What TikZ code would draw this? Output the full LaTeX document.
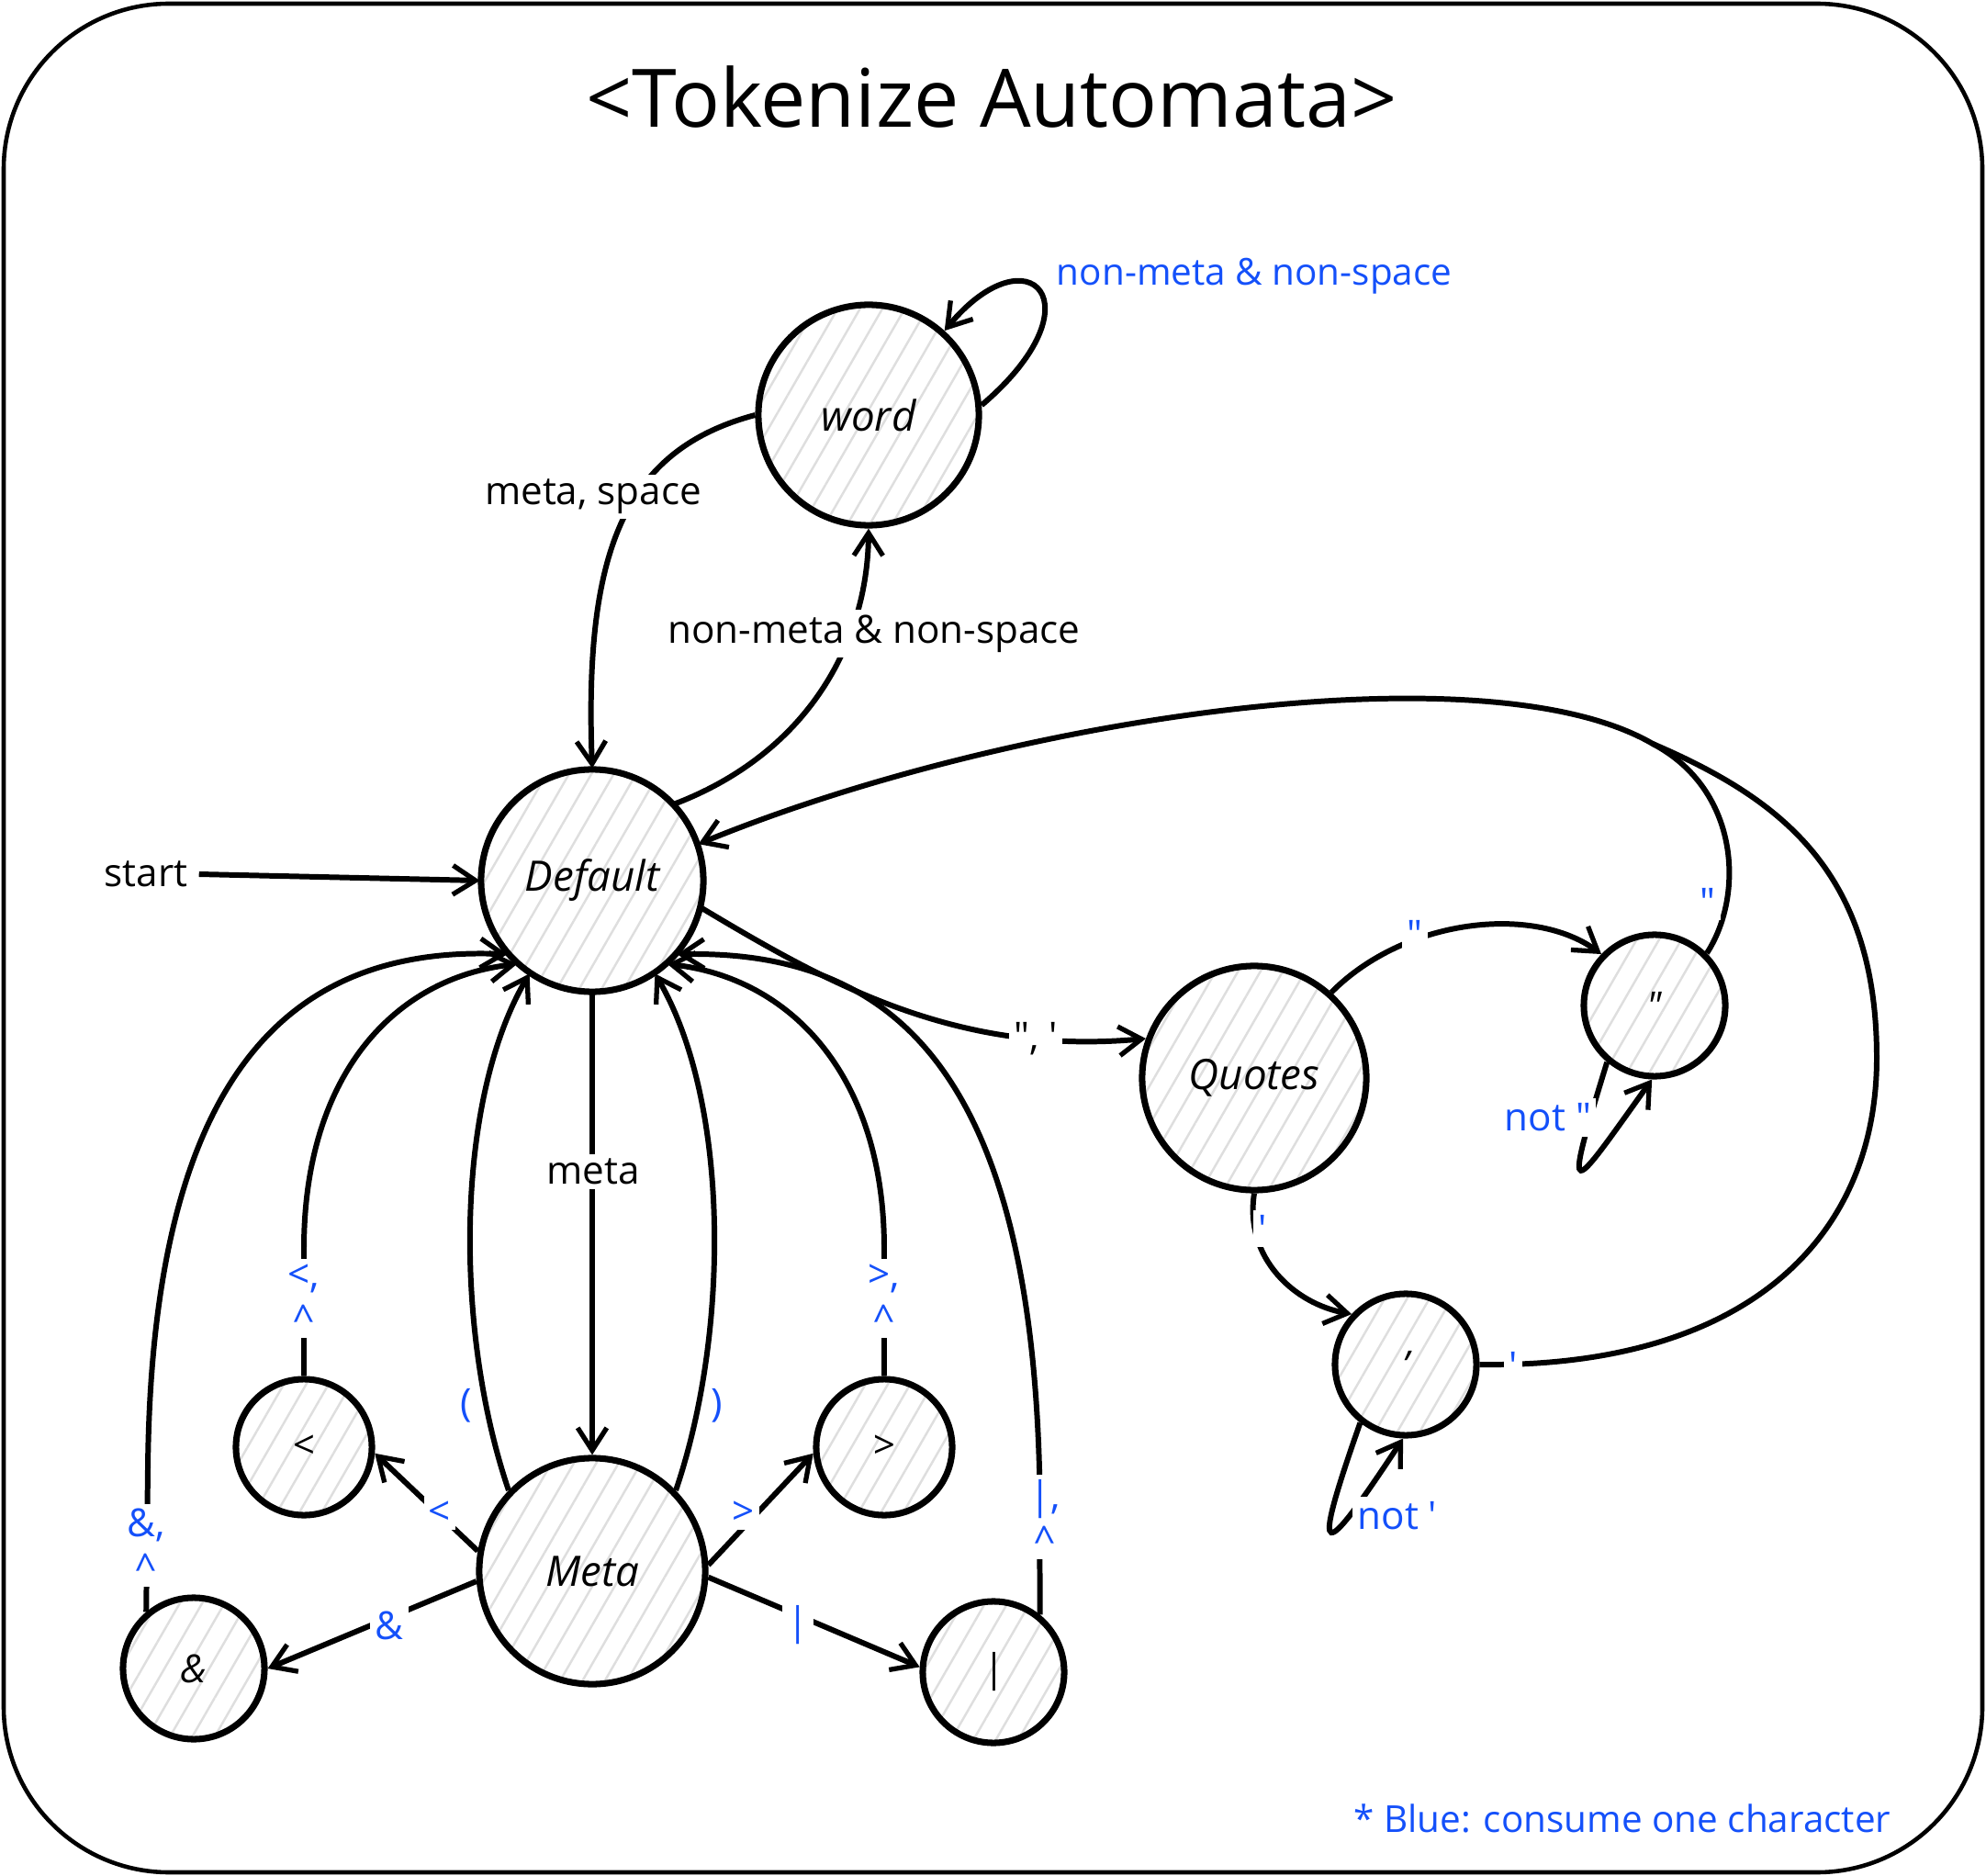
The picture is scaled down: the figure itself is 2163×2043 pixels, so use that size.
\documentclass[tikz,border=0pt]{standalone}
\usepackage{fontspec}
\setmainfont{Open Sans}
\usetikzlibrary{arrows.meta,patterns.meta}
\definecolor{lblblue}{RGB}{20,80,250}
\tikzset{
 st/.style={circle,draw,line width=2pt,pattern={Lines[angle=60,distance=6pt,line width=0.7pt]},pattern color=black!13,inner sep=0pt,font=\fontsize{13}{15}\selectfont\itshape},
 big/.style={st,minimum size=2.42cm},
 small/.style={st,minimum size=1.54cm,font=\fontsize{12}{14}\selectfont\itshape},
 edge/.style={line width=1.7pt,-{Straight Barb[length=7pt,width=9pt,line width=1.5pt]}},
 plain/.style={line width=1.7pt},
 lbl/.style={font=\fontsize{12}{14}\selectfont,fill=white,inner sep=1.5pt},
 blbl/.style={lbl,text=lblblue},
}
\begin{document}
\begin{tikzpicture}[x=0.01cm,y=-0.01cm]
\useasboundingbox (0,0) rectangle (2163,2043);
\draw[line width=1.3pt,rounded corners=1.8cm] (4,4) rectangle (2159,2039);

\node (title) at (1080,106) {\fontsize{25}{30}\selectfont <Tokenize Automata>};

% states
\node[big] (def) at (645,959) {Default};
\node[big,minimum size=2.4cm] (word) at (946,452) {word};
\node[big,minimum size=2.46cm] (meta) at (645,1711) {Meta};
\node[big,minimum size=2.44cm] (quo) at (1366,1174) {Quotes};
\node[small] (dq) at (1802,1095) {\textquotedbl};
\node[small] (sq) at (1531,1486) {'};
\node[small,minimum size=1.48cm] (lt) at (331,1576) {<};
\node[small,minimum size=1.48cm] (gt) at (963,1576) {>};
\node[small] (amp) at (211,1817) {\&};
\node[small] (bar) at (1082,1821) {|};

% start
\node[font=\fontsize{12}{14}\selectfont] (start) at (159,952) {start};
\draw[edge] (start.east) -- (def.west);

% word
\draw[edge] (word.west) .. controls (680,490) and (636,600) .. (def.north);
\draw[edge] (def.43) .. controls (880,820) and (945,700) .. (word.south);
\draw[edge] (word.5) .. controls (1200,330) and (1120,250) .. (word.48);

% meta
\draw[edge] (def.south) -- (meta.north);
\draw[edge] (meta.136) .. controls (495,1450) and (495,1200) .. (def.236);
\draw[edge] (meta.44) .. controls (795,1450) and (795,1200) .. (def.304);
\draw[edge] (meta.170) -- (lt.-5);
\draw[edge] (meta.3) -- (gt.185);
\draw[edge] (meta.185) -- (amp.0);
\draw[edge] (meta.-3) -- (bar.176);
\draw[edge] (lt.north) -- (331,1360) .. controls (331,1170) and (430,1065) .. (def.228);
\draw[edge] (gt.north) -- (963,1360) .. controls (963,1170) and (860,1065) .. (def.312);
\draw[edge] (amp.130) -- (161,1600) .. controls (165,1150) and (330,1030) .. (def.221);
\draw[edge] (bar.51) -- (1132,1600) .. controls (1120,1150) and (960,1035) .. (def.319);

% quotes
\draw[edge] (def.-14) .. controls (900,1070) and (1040,1150) .. (quo.160);
\draw[edge] (quo.48) .. controls (1530,1000) and (1670,985) .. (dq.136);
\draw[edge] (dq.230) .. controls (1700,1320) and (1710,1300) .. (dq.268);
\draw[edge] (quo.270) .. controls (1355,1370) and (1410,1420) .. (sq.137);
\draw[edge] (sq.232) .. controls (1425,1710) and (1440,1700) .. (sq.268);
\coordinate (join) at (1800,810);
\draw[edge] (sq.0) .. controls (1900,1490) and (2044,1350) .. (2044,1152) .. controls (2044,950) and (1940,870) .. (join) .. controls (1620,705) and (1100,780) .. (def.19);
\draw[plain] (dq.45) .. controls (1900,975) and (1895,860) .. (join);

% labels
\node[lbl] (l1) at (646,541) {meta, space};
\node[lbl] (l2) at (952,690) {non-meta \& non-space};
\node[blbl,anchor=west,font=\fontsize{11.5}{14}\selectfont] (l3) at (1145,301) {non-meta \& non-space};
\node[lbl] (l4) at (646,1276) {meta};
\node[blbl,fill=none] (l5) at (508,1531) {(};
\node[blbl,fill=none] (l6) at (781,1531) {)};
\node[blbl] (l7) at (479,1648) {<};
\node[blbl] (l8) at (810,1648) {>};
\node[blbl] (l9) at (424,1770) {\&};
\node[blbl] (l10) at (869,1770) {|};
\node[blbl,align=center] (l11) at (331,1414) {<,\\\textasciicircum};
\node[blbl,align=center] (l12) at (963,1414) {>,\\\textasciicircum};
\node[blbl,align=center] (l13) at (159,1683) {\&,\\\textasciicircum};
\node[blbl,align=center] (l14) at (1138,1652) {|,\\\textasciicircum};
\node[lbl] (l15) at (1128,1131) {\textquotedbl, \textquotesingle};
\node[blbl] (l16) at (1541,1017) {\textquotedbl};
\node[blbl] (l17) at (1375,1338) {\textquotesingle};
\node[blbl] (l18) at (1686,1217) {not \textquotedbl};
\node[blbl] (l19) at (1522,1651) {not \textquotesingle};
\node[blbl] (l20) at (1860,982) {\textquotedbl};
\node[blbl] (l21) at (1648,1487) {\textquotesingle};

\node[anchor=west,text=lblblue,font=\fontsize{11.5}{14}\selectfont] (note) at (1462,1980) {* Blue: consume one character};
\end{tikzpicture}
\end{document}
